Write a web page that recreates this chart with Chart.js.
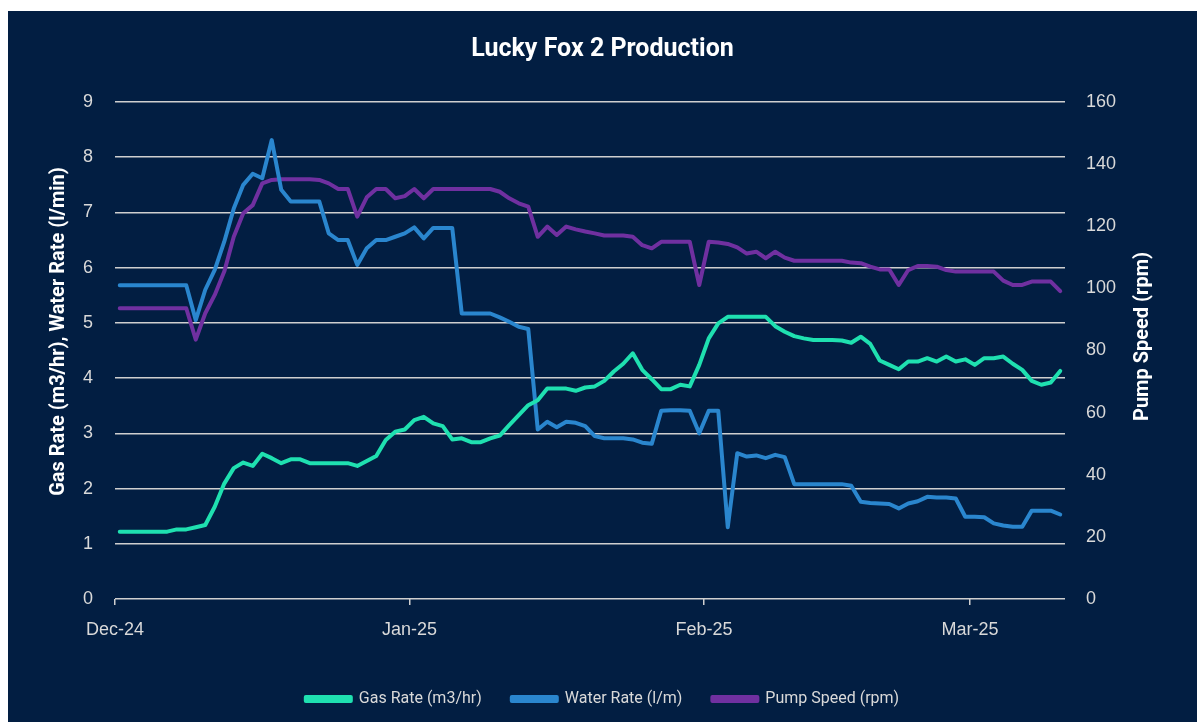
<!DOCTYPE html>
<html>
<head>
<meta charset="utf-8">
<script src="https://cdn.jsdelivr.net/npm/chart.js@4.4.1/dist/chart.umd.min.js"></script>
<style>
  html, body { margin: 0; padding: 0; background: #ffffff; }
  #wrap { position: absolute; left: 8px; top: 11px; width: 1189px; height: 711px; background: #021e42; }
</style>
</head>
<body>
<div id="wrap"><canvas id="production" width="1189" height="711"></canvas></div>
<script>
// one value per day, 1 Dec 2024 .. 10 Mar 2025
const gasRate = [
  1.22, 1.22, 1.22, 1.22, 1.22, 1.22, 1.26, 1.26, 1.30, 1.34,
  1.67, 2.09, 2.37, 2.47, 2.41, 2.63, 2.55, 2.46, 2.53, 2.53,
  2.46, 2.46, 2.46, 2.46, 2.46, 2.41, 2.50, 2.59, 2.88, 3.03,
  3.07, 3.24, 3.30, 3.18, 3.13, 2.89, 2.91, 2.84, 2.84, 2.91,
  2.96, 3.15, 3.33, 3.51, 3.60, 3.81, 3.81, 3.81, 3.77, 3.83,
  3.85, 3.95, 4.12, 4.26, 4.45, 4.15, 3.98, 3.80, 3.80, 3.88,
  3.85, 4.24, 4.72, 4.99, 5.11, 5.11, 5.11, 5.11, 5.11, 4.94,
  4.84, 4.76, 4.72, 4.69, 4.69, 4.69, 4.68, 4.64, 4.75, 4.62,
  4.32, 4.24, 4.16, 4.30, 4.30, 4.36, 4.30, 4.39, 4.30, 4.34,
  4.24, 4.36, 4.36, 4.39, 4.26, 4.15, 3.95, 3.88, 3.92, 4.13
];
const waterRate = [
  5.68, 5.68, 5.68, 5.68, 5.68, 5.68, 5.68, 5.68, 5.05, 5.60,
  5.96, 6.47, 7.07, 7.50, 7.70, 7.62, 8.31, 7.41, 7.20, 7.20,
  7.20, 7.20, 6.62, 6.50, 6.50, 6.05, 6.35, 6.50, 6.50, 6.56,
  6.62, 6.73, 6.53, 6.72, 6.72, 6.72, 5.17, 5.17, 5.17, 5.17,
  5.10, 5.02, 4.93, 4.89, 3.07, 3.21, 3.11, 3.21, 3.19, 3.13,
  2.95, 2.91, 2.91, 2.91, 2.89, 2.83, 2.81, 3.41, 3.42, 3.42,
  3.41, 3.00, 3.41, 3.41, 1.30, 2.64, 2.58, 2.60, 2.55, 2.61,
  2.57, 2.08, 2.08, 2.08, 2.08, 2.08, 2.08, 2.05, 1.76, 1.74,
  1.73, 1.72, 1.64, 1.73, 1.77, 1.85, 1.84, 1.84, 1.82, 1.49,
  1.49, 1.48, 1.37, 1.33, 1.31, 1.31, 1.60, 1.60, 1.60, 1.53
];
const pumpSpeed = [
  93.6, 93.6, 93.6, 93.6, 93.6, 93.6, 93.6, 93.6, 83.5, 92.0,
  97.9, 105.4, 116.6, 124.2, 126.8, 133.8, 134.9, 135.1, 135.1, 135.1,
  135.1, 134.9, 133.8, 132.0, 132.0, 123.1, 129.3, 132.0, 132.0, 129.0,
  129.7, 132.0, 129.0, 132.0, 132.0, 132.0, 132.0, 132.0, 132.0, 132.0,
  131.1, 129.0, 127.4, 126.3, 116.6, 119.9, 117.2, 119.9, 119.0, 118.3,
  117.7, 117.0, 117.0, 117.0, 116.6, 113.9, 112.9, 115.0, 115.0, 115.0,
  115.0, 101.1, 115.0, 114.8, 114.3, 113.2, 111.2, 111.8, 109.7, 111.8,
  109.9, 108.9, 108.9, 108.9, 108.9, 108.9, 108.9, 108.3, 108.1, 107.0,
  106.1, 106.1, 101.1, 105.9, 107.2, 107.2, 107.0, 105.9, 105.4, 105.4,
  105.4, 105.4, 105.4, 102.5, 101.1, 101.1, 102.2, 102.2, 102.2, 99.1
];

// month ticks, as days after 1 Dec 2024
const monthDays = [0, 31, 62, 90];
const monthLabels = ["Dec-24", "Jan-25", "Feb-25", "Mar-25"];

const leftTitle = "Gas Rate (m3/hr), Water Rate (l/min)";
const rightTitle = "Pump Speed (rpm)";

// points sit in the middle of their day
const toPoints = arr => arr.map((v, i) => ({ x: i + 0.5, y: v }));

const tickColor = "#d9d9d9";
const gridColor = "#cfcfcf";

// both axis titles read bottom-to-top, like the Excel original
const axisTitles = {
  id: "axisTitles",
  afterDraw(chart) {
    const { ctx, chartArea } = chart;
    const mid = (chartArea.top + chartArea.bottom) / 2;
    ctx.save();
    ctx.fillStyle = "#ffffff";
    ctx.font = "bold 20px Roboto";
    ctx.textAlign = "center";
    ctx.textBaseline = "middle";
    ctx.save();
    ctx.translate(chartArea.left - 56, mid - 19);
    ctx.rotate(-Math.PI / 2);
    ctx.fillText(leftTitle, 0, 0);
    ctx.restore();
    ctx.translate(chartArea.right + 78, mid - 14);
    ctx.rotate(-Math.PI / 2);
    ctx.fillText(rightTitle, 0, 0);
    ctx.restore();
  }
};

new Chart(document.getElementById("production"), {
  type: "line",
  data: {
    datasets: [
      {
        label: "Gas Rate (m3/hr)",
        data: toPoints(gasRate),
        borderColor: "#1fe0b0",
        backgroundColor: "#1fe0b0",
        yAxisID: "y"
      },
      {
        label: "Water Rate (l/m)",
        data: toPoints(waterRate),
        borderColor: "#2a86ce",
        backgroundColor: "#2a86ce",
        yAxisID: "y"
      },
      {
        label: "Pump Speed (rpm)",
        data: toPoints(pumpSpeed),
        borderColor: "#7030a0",
        backgroundColor: "#7030a0",
        yAxisID: "y2"
      }
    ]
  },
  options: {
    responsive: false,
    animation: false,
    elements: {
      point: { radius: 0 },
      line: { borderWidth: 4, tension: 0, borderJoinStyle: "round", borderCapStyle: "round" }
    },
    layout: { padding: { top: 0, bottom: 5, left: 0, right: 0 } },
    plugins: {
      title: {
        display: true,
        text: "Lucky Fox 2 Production",
        color: "#ffffff",
        font: { family: "Roboto", size: 25, weight: "bold" },
        padding: { top: 24, bottom: 37 }
      },
      legend: {
        position: "bottom",
        labels: {
          color: tickColor,
          font: { family: "Roboto", size: 16 },
          boxWidth: 45,
          boxHeight: 4,
          padding: 30
        }
      },
      tooltip: { enabled: false }
    },
    scales: {
      x: {
        type: "linear",
        min: 0,
        max: 100,
        afterBuildTicks: scale => {
          scale.ticks = monthDays.map(v => ({ value: v }));
        },
        afterFit: scale => { scale.height = 62; },
        ticks: {
          color: tickColor,
          font: { family: "Liberation Sans", size: 18 },
          padding: 14,
          maxRotation: 0,
          autoSkip: false,
          callback: value => monthLabels[monthDays.indexOf(value)]
        },
        grid: { drawOnChartArea: false, drawTicks: true, tickLength: 6, color: gridColor, lineWidth: 1.5 },
        border: { display: false }
      },
      y: {
        position: "left",
        min: 0,
        max: 9,
        afterFit: scale => { scale.width = 107; },
        ticks: {
          stepSize: 1,
          color: tickColor,
          font: { family: "Liberation Sans", size: 18 },
          padding: 22
        },
        grid: { color: gridColor, lineWidth: 1.5, drawTicks: false },
        border: { display: false }
      },
      y2: {
        position: "right",
        min: 0,
        max: 160,
        afterFit: scale => { scale.width = 132; },
        ticks: {
          stepSize: 20,
          color: tickColor,
          font: { family: "Liberation Sans", size: 18 },
          padding: 21
        },
        grid: { drawOnChartArea: false, drawTicks: false },
        border: { display: false }
      }
    }
  },
  plugins: [axisTitles]
});
</script>
</body>
</html>
